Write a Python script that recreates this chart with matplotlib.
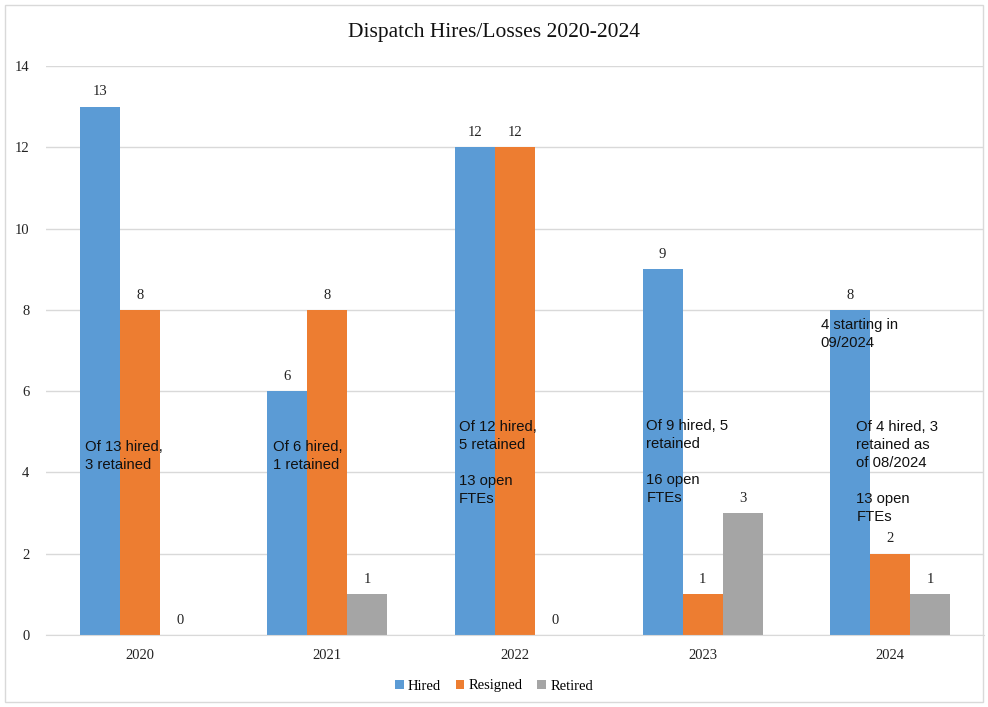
import matplotlib.pyplot as plt
import numpy as np
from matplotlib.patches import Rectangle

# data
years = ['2020', '2021', '2022', '2023', '2024']
hired = [13, 6, 12, 9, 8]
resigned = [8, 8, 12, 1, 2]
retired = [0, 1, 0, 3, 1]

notes = [
    (0, -0.29, 4.8, 'Of 13 hired,\n3 retained'),
    (1, -0.29, 4.8, 'Of 6 hired,\n1 retained'),
    (2, -0.30, 5.3, 'Of 12 hired,\n5 retained\n\n13 open\nFTEs'),
    (3, -0.30, 5.32, 'Of 9 hired, 5\nretained\n\n16 open\nFTEs'),
    (4, -0.37, 7.8, '4 starting in\n09/2024'),
    (4, -0.18, 5.3, 'Of 4 hired, 3\nretained as\nof 08/2024\n\n13 open\nFTEs'),
]

colors = ['#5B9BD5', '#ED7D31', '#A5A5A5']
serif = 'Liberation Serif'
sans = 'Liberation Sans'

fig = plt.figure(figsize=(9.88, 7.07), dpi=100)
ax = fig.add_axes([46 / 988, 72 / 707, 938 / 988, 569 / 707])

x = np.arange(len(years))
w = 0.213
series = [('Hired', hired), ('Resigned', resigned), ('Retired', retired)]
for i, (name, vals) in enumerate(series):
    bars = ax.bar(x + (i - 1) * w, vals, w, color=colors[i], label=name, zorder=2)
    ax.bar_label(bars, padding=6, fontsize=10.5, family=serif, color='#222222')

for idx, dx, y, txt in notes:
    ax.text(idx + dx, y, txt, ha='left', va='top', fontsize=10.7, family=sans,
            linespacing=1.38, color='#111111', zorder=3)

ax.set_xlim(-0.5, len(years) - 0.5)
ax.set_ylim(0, 14)
ax.set_yticks(range(0, 15, 2))
ax.set_xticks(x)
ax.set_xticklabels(years)
ax.yaxis.grid(True, color='#D9D9D9', linewidth=1, zorder=0)
ax.set_axisbelow(True)
for s in ('top', 'right', 'left'):
    ax.spines[s].set_visible(False)
ax.spines['bottom'].set_color('#D9D9D9')
ax.tick_params(length=0, labelsize=10.5, colors='#222222')
ax.tick_params(axis='x', pad=10)
ax.tick_params(axis='y', pad=12)
for lbl in ax.get_xticklabels() + ax.get_yticklabels():
    lbl.set_family(serif)

fig.text(0.5, 1 - 33 / 707, 'Dispatch Hires/Losses 2020-2024', ha='center', va='center',
         fontsize=15.5, family=serif, color='#111111')

fig.legend(loc='center', bbox_to_anchor=(0.5, 21 / 707), ncol=3, frameon=False,
           handlelength=0.6, handleheight=0.6, handletextpad=0.3, columnspacing=1.0,
           prop={'family': serif, 'size': 10.5})

fig.patches.append(Rectangle((5 / 988, 5 / 707), 978 / 988, 697 / 707, transform=fig.transFigure,
                             fill=False, edgecolor='#D9D9D9', linewidth=1))

fig.savefig('out.png', dpi=100)
